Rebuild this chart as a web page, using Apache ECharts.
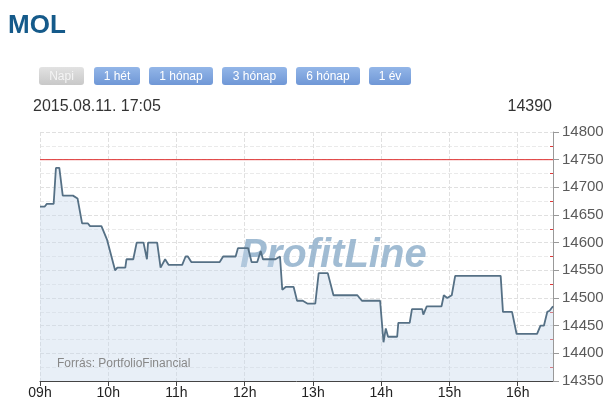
<!DOCTYPE html>
<html>
<head>
<meta charset="utf-8">
<script src="https://cdn.jsdelivr.net/npm/echarts@6/dist/echarts.min.js"></script>
<style>
  html, body { margin: 0; padding: 0; background: #fff; }
  #wrap { position: relative; width: 616px; height: 415px; font-family: "Liberation Sans", Arial, sans-serif; }
  #chart { position: absolute; left: 0; top: 0; width: 616px; height: 415px; }
  .t { position: absolute; white-space: nowrap; }
  .btn { position: absolute; top: 67px; height: 18px; line-height: 18px; font-size: 12px; color: #fff; text-align: center; border-radius: 3px;
         background: linear-gradient(#93b6e8, #6f97d6); }
  .btn.off { background: linear-gradient(#e2e2e2, #c8c8c8); color: #f4f4f4; }
</style>
</head>
<body>
<div id="wrap">
  <div id="chart"></div>
  <div class="t" style="left:8px;top:11px;font-size:26px;line-height:26px;font-weight:bold;color:#155a8a;">MOL</div>
  <div class="btn off" style="left:39px;width:45px;">Napi</div>
  <div class="btn" style="left:94px;width:46px;">1 hét</div>
  <div class="btn" style="left:149px;width:64px;">1 hónap</div>
  <div class="btn" style="left:222px;width:65px;">3 hónap</div>
  <div class="btn" style="left:296px;width:64px;">6 hónap</div>
  <div class="btn" style="left:369px;width:42px;">1 év</div>
  <div class="t" style="left:33px;top:98px;font-size:16px;line-height:16px;color:#333;">2015.08.11. 17:05</div>
  <div class="t" style="right:64px;top:98px;font-size:16px;line-height:16px;color:#333;">14390</div>
</div>
<script>
// ---- data ----
const times = ["09:00","09:04","09:06","09:12","09:14","09:17","09:20","09:29","09:33","09:37",
  "09:42","09:44","09:54","09:59","10:06","10:08","10:15","10:16","10:22","10:25",
  "10:31","10:34","10:35","10:43","10:46","10:50","10:53","11:05","11:08","11:10",
  "11:13","11:38","11:41","11:52","11:54","12:03","12:06","12:11","12:14","12:16",
  "12:27","12:31","12:33","12:36","12:43","12:46","12:51","12:55","13:02","13:05",
  "13:13","13:18","13:39","13:43","13:59","14:02","14:04","14:06","14:14","14:15",
  "14:25","14:27","14:36","14:37","14:40","14:53","14:55","14:58","15:02","15:05",
  "15:45","15:47","15:55","15:59","16:17","16:20","16:23","16:26","16:28","16:31"];
const prices = [14665,14665,14670,14670,14735,14735,14685,14685,14680,14635,
  14635,14630,14630,14605,14550,14555,14555,14570,14570,14600,
  14600,14570,14600,14600,14555,14570,14560,14560,14575,14575,
  14565,14565,14575,14575,14590,14590,14565,14565,14585,14570,
  14570,14575,14515,14520,14520,14495,14495,14490,14490,14545,
  14545,14505,14505,14495,14495,14420,14445,14430,14430,14455,
  14455,14480,14480,14470,14485,14485,14505,14500,14505,14540,
  14540,14475,14475,14435,14435,14450,14450,14475,14477,14485];
const refLevel = 14750;
const sessionStart = "09:00";
const sessionEnd = "16:31";
const yMin = 14350, yMax = 14800, yStep = 50;
const sourceText = "Forrás: PortfolioFinancial";
const watermark = "ProfitLine";

function toMin(t) { const p = t.split(":"); return (+p[0]) * 60 + (+p[1]) - (+sessionStart.split(":")[0]) * 60; }
const seriesData = times.map((t, i) => [toMin(t), prices[i]]);
const refData = [[toMin(sessionStart), refLevel], [toMin(sessionEnd), refLevel]];
const startHour = +sessionStart.split(":")[0];

const chart = echarts.init(document.getElementById('chart'), null, { renderer: 'canvas' });
const gridRect = { left: 40, right: 63, top: 132, bottom: 34 };
chart.setOption({
  animation: false,
  grid: [Object.assign({}, gridRect), Object.assign({}, gridRect)],
  xAxis: [{
    type: 'value', gridIndex: 0, min: 0, max: toMin(sessionEnd), interval: 60,
    axisLine: { show: true, onZero: false, lineStyle: { color: '#444', width: 1 } },
    axisTick: { show: true, length: 5, lineStyle: { color: '#444' } },
    axisLabel: { color: '#222', fontSize: 14, fontFamily: 'Liberation Sans, Arial', margin: 5, showMaxLabel: false,
      formatter: v => (v % 60 === 0) ? String(startHour + v / 60).padStart(2, '0') + 'h' : '' },
    splitLine: { show: true, lineStyle: { color: '#e0e0e0', type: 'dashed' } }
  }, {
    type: 'value', gridIndex: 1, min: 0, max: toMin(sessionEnd), show: false,
    axisLine: { onZero: false }
  }],
  yAxis: [{
    type: 'value', gridIndex: 0, position: 'right', min: yMin, max: yMax, interval: yStep,
    axisLine: { show: true, onZero: false, lineStyle: { color: '#999', width: 1 } },
    axisTick: { show: true, length: 6, lineStyle: { color: '#999' } },
    axisLabel: { color: '#5a5a5a', fontSize: 15, fontFamily: 'Liberation Sans, Arial', margin: 9, formatter: v => String(v) },
    splitLine: { show: true, lineStyle: { color: '#e0e0e0', type: 'dashed' } },
    minorSplitLine: { show: true, lineStyle: { color: '#eaeaea', type: 'dashed' } },
    minorTick: { show: false, splitNumber: 2 }
  }, {
    type: 'value', gridIndex: 1, position: 'right', min: yMin, max: yMax, interval: yStep,
    axisLine: { show: false, onZero: false }, axisLabel: { show: false }, splitLine: { show: false },
    axisTick: { show: false, inside: true },
    minorTick: { show: true, splitNumber: 2, length: 3, lineStyle: { color: '#e03a3a', width: 1 } }
  }],
  graphic: [
    { type: 'text', left: 240, top: 236, silent: true, z: 1,
      style: { text: watermark, font: 'italic bold 40px "Liberation Sans", Arial', fill: 'rgba(145,176,203,0.85)' } },
    { type: 'text', left: 57, top: 358, silent: true, z: 10,
      style: { text: sourceText, font: '12px "Liberation Sans", Arial', fill: '#888' } }
  ],
  series: [{
    type: 'line', xAxisIndex: 0, yAxisIndex: 0, data: seriesData,
    symbol: 'none', z: 3,
    lineStyle: { color: '#557085', width: 1.8 },
    areaStyle: { color: 'rgba(200,218,236,0.6)', origin: 'start' }
  }, {
    type: 'line', xAxisIndex: 0, yAxisIndex: 0, data: refData, silent: true,
    symbol: 'none', z: 4,
    lineStyle: { color: '#e03030', width: 1 }
  }]
});
</script>
</body>
</html>
